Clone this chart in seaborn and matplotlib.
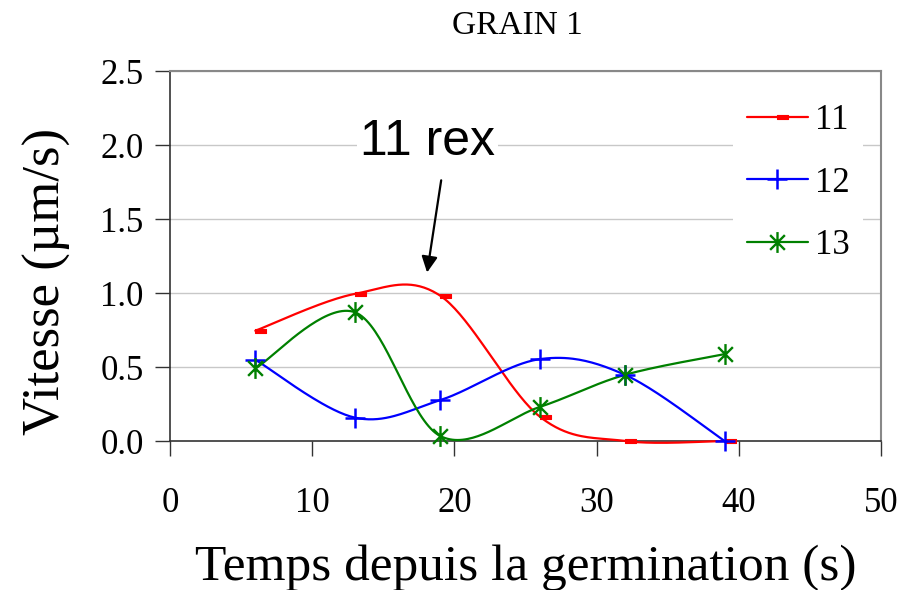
import numpy as np
import pandas as pd
import matplotlib
matplotlib.use("Agg")
import matplotlib.pyplot as plt
from matplotlib.path import Path
from matplotlib.lines import Line2D
import seaborn as sns

# ---- data ----
temps = [6, 13, 19, 26, 32, 39]
v11 = [0.745, 0.994, 0.982, 0.165, 0.0, 0.0]
v12 = [0.549, 0.158, 0.276, 0.553, 0.447, 0.0]
v13 = [0.49, 0.87, 0.034, 0.23, 0.447, 0.587]
series_names = ["11", "12", "13"]
colors = ["#ff0000", "#0000ff", "#008000"]
xticks = [0, 10, 20, 30, 40, 50]
yticks = [0.0, 0.5, 1.0, 1.5, 2.0, 2.5]

sns.set_style("white")
plt.rcParams["font.family"] = ["Liberation Serif", "DejaVu Serif"]
plt.rcParams["text.color"] = "black"
plt.rcParams["axes.labelcolor"] = "black"
plt.rcParams["xtick.color"] = "black"
plt.rcParams["ytick.color"] = "black"


def smooth(xs, ys, n=40):
    """Excel-like Bezier smoothing (Catmull-Rom control points)."""
    pts = np.column_stack([xs, ys]).astype(float)
    P = np.vstack([pts[0], pts, pts[-1]])
    out = []
    t = np.linspace(0, 1, n)[:, None]
    for i in range(len(pts) - 1):
        p0, p1, p2, p3 = P[i], P[i + 1], P[i + 2], P[i + 3]
        c1 = p1 + (p2 - p0) / 6
        c2 = p2 - (p3 - p1) / 6
        b = (1 - t) ** 3 * p1 + 3 * (1 - t) ** 2 * t * c1 + 3 * (1 - t) * t ** 2 * c2 + t ** 3 * p2
        out.append(b if i == 0 else b[1:])
    return np.vstack(out)


# markers
dash_marker = Path([(0, -0.2), (1, -0.2), (1, 0.2), (0, 0.2), (0, -0.2)],
                   [Path.MOVETO, Path.LINETO, Path.LINETO, Path.LINETO, Path.CLOSEPOLY])
d = np.sqrt(0.5)
star_marker = Path([(0, -1), (0, 1), (-d, -d), (d, d), (-d, d), (d, -d)],
                   [Path.MOVETO, Path.LINETO, Path.MOVETO, Path.LINETO, Path.MOVETO, Path.LINETO])
marker_styles = [
    dict(marker=dash_marker, markersize=16, markerfacecolor=colors[0], markeredgecolor=colors[0], markeredgewidth=0.8),
    dict(marker="+", markersize=15, markeredgewidth=1.8, markeredgecolor=colors[1]),
    dict(marker=star_marker, markersize=15, markeredgewidth=1.7, markeredgecolor=colors[2], markerfacecolor="none"),
]
LW = 1.6

fig = plt.figure(figsize=(9.01, 5.9), dpi=100)
ax = fig.add_axes([170 / 901, 1 - 441 / 590, 711 / 901, 370 / 590])

# grid
for yv in yticks[1:]:
    ax.axhline(yv, color="#c8c8c8", lw=1.0, zorder=0)

handles = []
for name, vals, col, ms in zip(series_names, [v11, v12, v13], colors, marker_styles):
    curve = smooth(temps, vals)
    df = pd.DataFrame({"x": curve[:, 0], "y": curve[:, 1]})
    sns.lineplot(data=df, x="x", y="y", sort=False, estimator=None, color=col, linewidth=LW,
                 ax=ax, zorder=3, clip_on=False)
    ax.plot(temps, vals, linestyle="none", zorder=4, clip_on=False, **ms)
    handles.append(Line2D([], [], color=col, lw=LW, **ms))

ax.set_xlim(0, 50)
ax.set_ylim(0, 2.5)
ax.set_xticks(xticks)
ax.set_yticks(yticks)
ax.set_xticklabels([str(v) for v in xticks])
ax.set_yticklabels([f"{v:.1f}" for v in yticks])
ax.tick_params(axis="x", direction="out", length=11, width=1.0, pad=22, labelsize=25, color="#333333")
ax.tick_params(axis="y", direction="out", length=11, width=1.0, pad=8, labelsize=25, color="#333333")
ax.xaxis.set_ticks_position("bottom")
ax.yaxis.set_ticks_position("left")

for s in ["left", "bottom"]:
    ax.spines[s].set_color("#333333")
    ax.spines[s].set_linewidth(1.2)
for s in ["top", "right"]:
    ax.spines[s].set_color("#888888")
    ax.spines[s].set_linewidth(1.5)

ax.set_xlabel("Temps depuis la germination (s)", fontsize=37, labelpad=18)
ax.set_ylabel("Vitesse (µm/s)", fontsize=38)
ax.yaxis.set_label_coords(-0.139, 0.432)
fig.text(517 / 901, 1 - 26 / 590, "GRAIN 1", fontsize=24, ha="center", va="center")

# annotation
ax.text(18.1, 2.02, "11 rex", fontsize=36, family=["Liberation Sans", "DejaVu Sans"],
        ha="center", va="center", zorder=5,
        bbox=dict(facecolor="white", edgecolor="none", pad=2))
ax.annotate("", xy=(18.05, 1.12), xytext=(19.1, 1.78),
            arrowprops=dict(arrowstyle="-|>", color="black", lw=1.6, mutation_scale=24), zorder=5)

leg = ax.legend(handles, series_names, loc="center left", bbox_to_anchor=(0.792, 0.697),
                borderaxespad=0, fontsize=25, frameon=True, facecolor="white", edgecolor="none",
                framealpha=1, handlelength=1.75, handletextpad=0.2, labelspacing=0.85, fancybox=False)
leg.set_zorder(6)

fig.savefig("out.png", dpi=100)
